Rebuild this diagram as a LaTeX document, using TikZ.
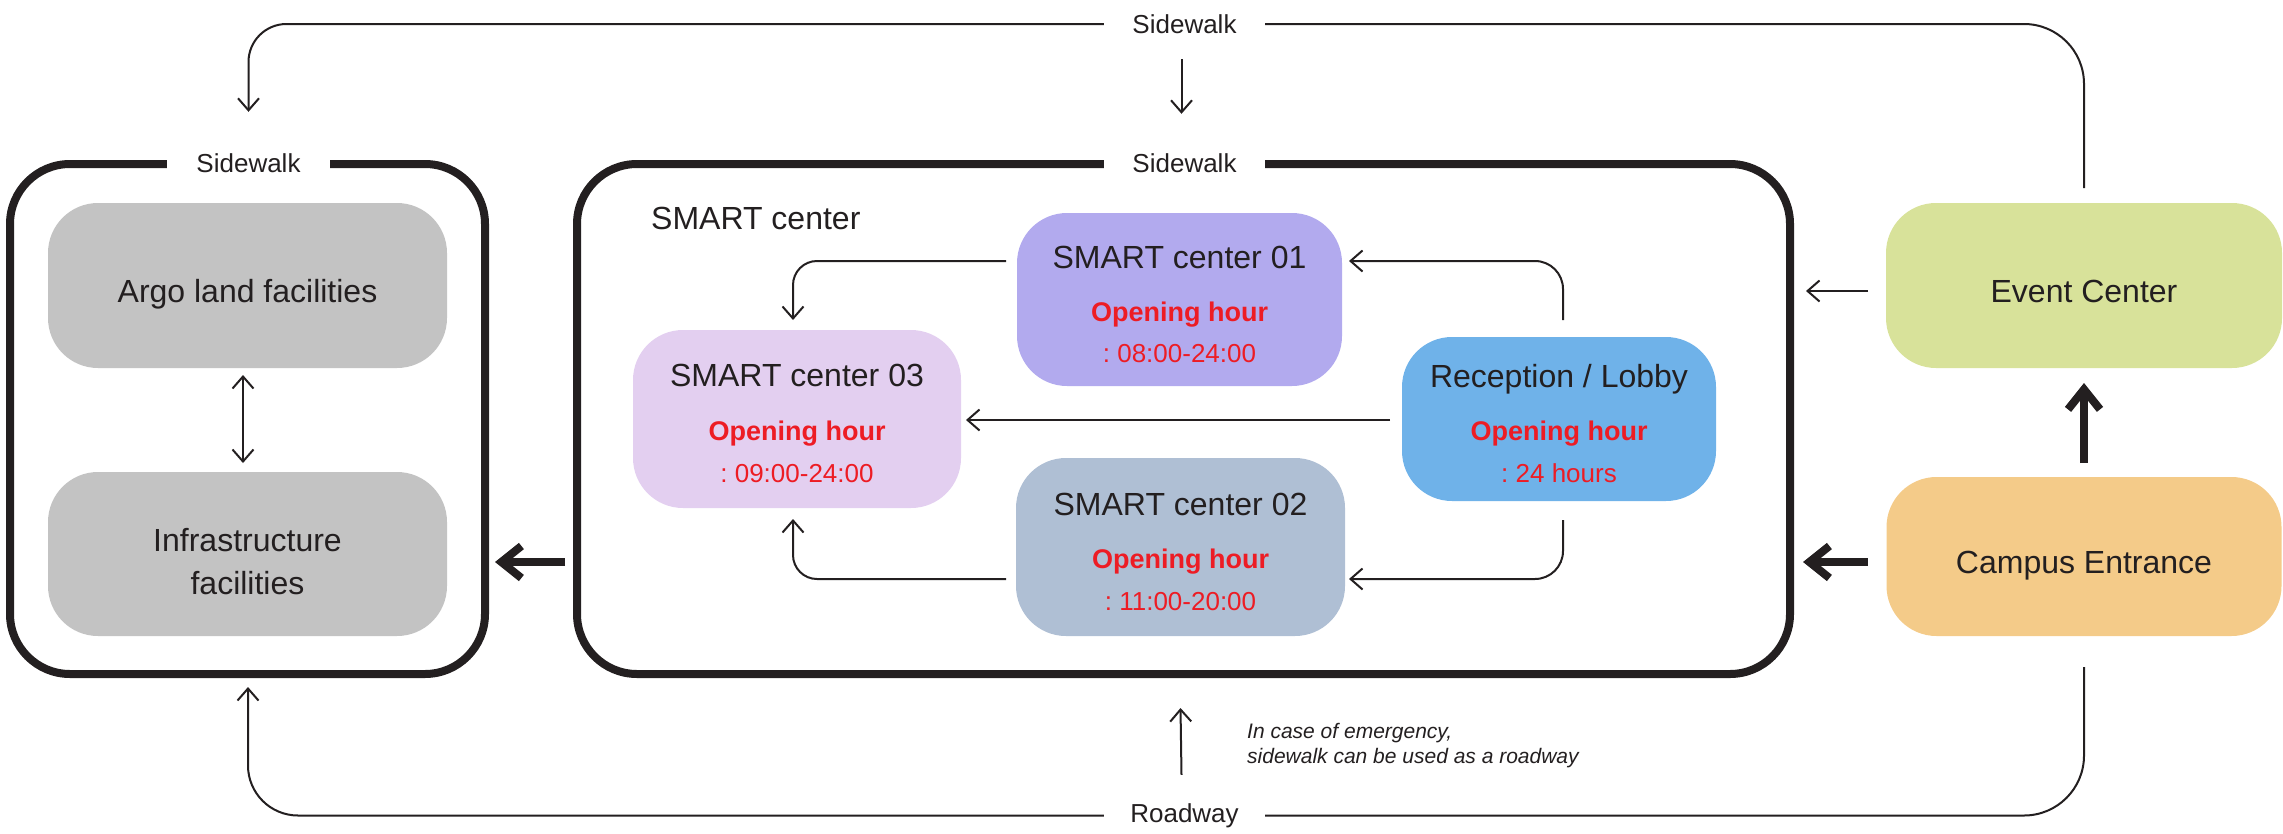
\documentclass[tikz,border=0pt]{standalone}
\usepackage{fontspec}
\setmainfont{Liberation Sans}
\usetikzlibrary{arrows.meta,calc}
\frenchspacing
\definecolor{ink}{HTML}{231F20}
\definecolor{grayc}{HTML}{C3C3C3}
\definecolor{cone}{HTML}{B2AAEE}
\definecolor{cthree}{HTML}{E3CFF0}
\definecolor{ctwo}{HTML}{AFBFD4}
\definecolor{crec}{HTML}{6FB2E9}
\definecolor{cevent}{HTML}{D8E29A}
\definecolor{ccampus}{HTML}{F4CB89}
\definecolor{redt}{HTML}{ED1C24}
\begin{document}
\begin{tikzpicture}[x=1pt,y=-1pt,
  every node/.style={text=ink},
  frame/.style={draw=ink, line width=8pt, rounded corners=60pt, inner sep=0pt, outer sep=0pt},
  fbox/.style={rounded corners=50pt, inner sep=0pt, outer sep=0pt},
  ttl/.style={font=\fontsize{32}{38}\selectfont, inner sep=0pt},
  swl/.style={font=\fontsize{26}{30}\selectfont, inner sep=0pt, minimum height=30pt},
  redb/.style={font=\fontsize{27}{30}\selectfont\bfseries, text=redt, inner sep=0pt},
  redr/.style={font=\fontsize{26}{30}\selectfont, text=redt, inner sep=0pt},
  ital/.style={font=\fontsize{21}{24.5}\selectfont\itshape, inner sep=0pt, align=left},
  thin/.style={draw=ink, line width=2pt},
  barb/.tip={Straight Barb[length=12pt, width=21pt, line width=2pt]},
  thinarrow/.style={thin, -barb},
  thickarrow/.style={draw=ink, line width=8pt, -{Straight Barb[length=20pt, width=32pt, line width=8pt]}}
]
\useasboundingbox (0,0) rectangle (2283,833);

% big frames
\node[frame, minimum width=475pt, minimum height=510pt] (leftbox) at (247.5,419) {};
\node[frame, minimum width=1213pt, minimum height=510pt] (smart) at (1183.5,419) {};
\node[swl, fill=white, minimum width=163pt] (swleft) at (248.5,163) {Sidewalk};
\node[swl, fill=white, minimum width=161pt] (swmid) at (1184.5,163) {Sidewalk};
\node[swl, minimum width=161pt] (swtop) at (1184.5,24) {Sidewalk};
\node[swl, minimum width=161pt] (road) at (1184.5,815.5) {Roadway};

% left boxes
\node[fbox, fill=grayc, minimum width=399pt, minimum height=165pt] (argo) at (247.5,285.5) {};
\node[ttl, anchor=base] (argot) at ($(argo)+(0,17)$) {Argo land facilities};
\node[fbox, fill=grayc, minimum width=399pt, minimum height=164pt] (infra) at (247.5,554) {};
\node[ttl, anchor=base] (infrat1) at ($(infra)+(0,-2.5)$) {Infrastructure};
\node[ttl, anchor=base] (infrat2) at ($(infra)+(0,40.5)$) {facilities};

% SMART center
\node[ttl, anchor=base west] (smartt) at (651,229.5) {SMART center};
\node[fbox, fill=cone, minimum width=325pt, minimum height=173pt] (s1) at (1179.5,299.5) {};
\node[ttl, anchor=base] (s1t) at ($(s1)+(0,-31.5)$) {SMART center 01};
\node[redb, anchor=base] (s1o) at ($(s1)+(0,21.5)$) {Opening hour};
\node[redr, anchor=base] (s1h) at ($(s1)+(0,63)$) {: 08:00-24:00};

\node[fbox, fill=cthree, minimum width=328pt, minimum height=178pt] (s3) at (797,419) {};
\node[ttl, anchor=base] (s3t) at ($(s3)+(0,-33)$) {SMART center 03};
\node[redb, anchor=base] (s3o) at ($(s3)+(0,21.5)$) {Opening hour};
\node[redr, anchor=base] (s3h) at ($(s3)+(0,63)$) {: 09:00-24:00};

\node[fbox, fill=ctwo, minimum width=329pt, minimum height=178pt] (s2) at (1180.5,547) {};
\node[ttl, anchor=base] (s2t) at ($(s2)+(0,-31.5)$) {SMART center 02};
\node[redb, anchor=base] (s2o) at ($(s2)+(0,21.5)$) {Opening hour};
\node[redr, anchor=base] (s2h) at ($(s2)+(0,63)$) {: 11:00-20:00};

\node[fbox, fill=crec, minimum width=314pt, minimum height=164pt] (rec) at (1559,419) {};
\node[ttl, anchor=base] (rect) at ($(rec)+(0,-31.5)$) {Reception / Lobby};
\node[redb, anchor=base] (reco) at ($(rec)+(0,21.5)$) {Opening hour};
\node[redr, anchor=base] (rech) at ($(rec)+(0,63)$) {: 24 hours};

% right boxes
\node[fbox, fill=cevent, minimum width=396pt, minimum height=165pt] (ev) at (2084,285.5) {};
\node[ttl, anchor=base] (evt) at ($(ev)+(0,16.5)$) {Event Center};
\node[fbox, fill=ccampus, minimum width=395pt, minimum height=159pt] (campus) at (2084,556.5) {};
\node[ttl, anchor=base] (campust) at ($(campus)+(0,17)$) {Campus Entrance};

\node[ital, anchor=north west] (note) at (1247,723.5) {In case of emergency,\\sidewalk can be used as a roadway};

% outer connectors
\draw[thin, rounded corners=60pt] ([yshift=15pt]ev.north) |- (swtop.east);
\draw[thinarrow, rounded corners=38pt] (swtop.west) -| ([yshift=36pt]swleft.north);
\draw[thinarrow] ([xshift=-3pt,yshift=-20pt]swtop.south) -- ([xshift=-3pt,yshift=34pt]swmid.north);
\draw[thinarrow, rounded corners=50pt] (road.west) -| ([xshift=0.5pt,yshift=-13pt]leftbox.south);
\draw[thin, rounded corners=60pt] ([yshift=-31pt]campus.south) |- (road.east);
\draw[thinarrow] ([xshift=-3pt,yshift=25.5pt]road.north) -- ([xshift=-3pt,yshift=-34pt]smart.south);

\draw[thinarrow] ($(ev.west)+(-18,5.5)$) -- ($(smart.east |- ev.west)+(16,5.5)$);
\draw[thickarrow] ($(campus.west)+(-19,5.5)$) -- ($(smart.east |- campus.west)+(13,5.5)$);
\draw[thickarrow] ([yshift=14pt]campus.north) -- ([yshift=-15pt]ev.south);
\draw[thickarrow] ($(smart.west)+(-12,143)$) -- ($(leftbox.east)+(10,143)$);
\draw[thin, barb-barb] ([xshift=-4.5pt,yshift=-7pt]argo.south) -- ([xshift=-4.5pt,yshift=9pt]infra.north);

% inner connectors
\draw[thinarrow, rounded corners=24pt] ($(s1.west)+(-11,-38.5)$) -| ($(s3.north)+(-4,-10)$);
\draw[thinarrow, rounded corners=24pt] ($(s2.west)+(-10,32)$) -| ($(s3.south)+(-4,11)$);
\draw[thinarrow, rounded corners=28pt] ($(rec.north)+(4,-17)$) |- ($(s1.east)+(7,-38.5)$);
\draw[thinarrow, rounded corners=28pt] ($(rec.south)+(4,19)$) |- ($(s2.east)+(4,32)$);
\draw[thinarrow] ($(rec.west)+(-12,1)$) -- ($(s3.east)+(5,1)$);
\end{tikzpicture}
\end{document}
